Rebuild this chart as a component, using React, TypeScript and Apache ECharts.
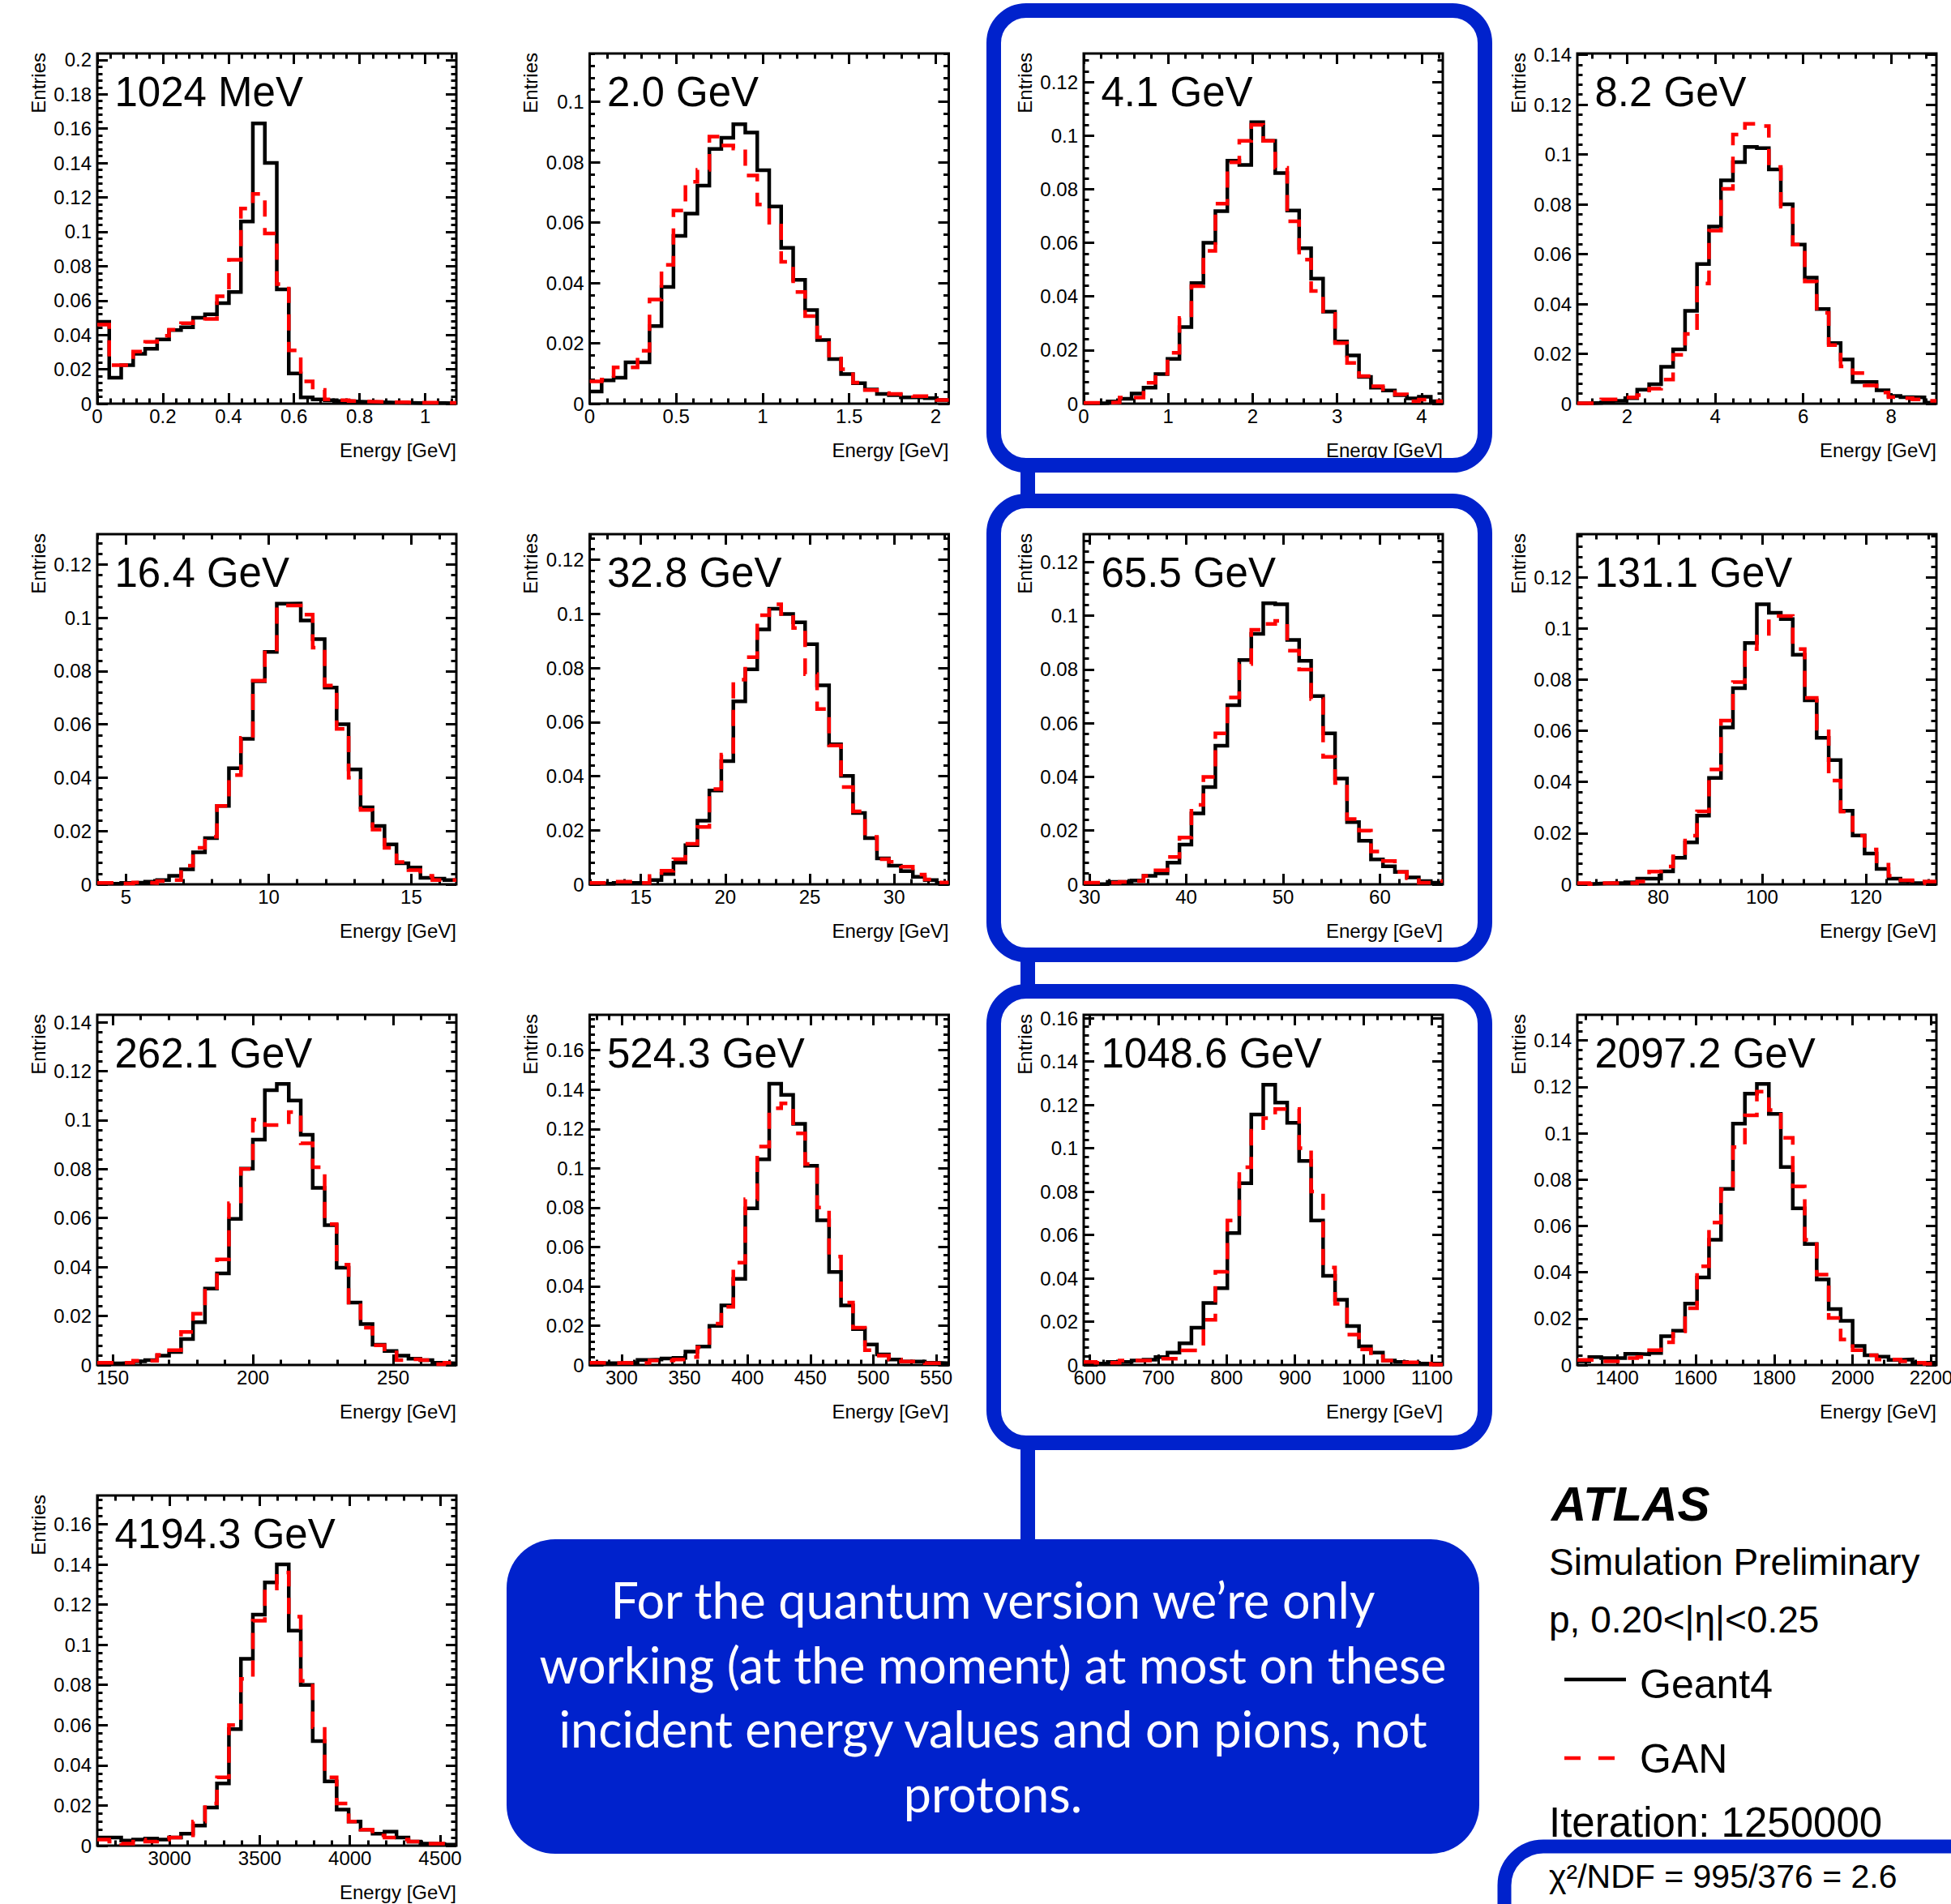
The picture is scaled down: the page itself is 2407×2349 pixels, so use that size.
import React, { useEffect, useRef } from "react";
import * as echarts from "echarts";

const FONT = '"Liberation Sans", Arial, Helvetica, sans-serif';
const NOTE_FONT = 'Lato, "Open Sans", sans-serif';
const BLUE = "#0022cc";

// ---------------- data ----------------
const panelTitles = [
  "1024 MeV", "2.0 GeV", "4.1 GeV", "8.2 GeV",
  "16.4 GeV", "32.8 GeV", "65.5 GeV", "131.1 GeV",
  "262.1 GeV", "524.3 GeV", "1048.6 GeV", "2097.2 GeV",
  "4194.3 GeV",
];
// histogram ranges (30 bins each) [GeV]
const xMins = [0, 0, 0, 0.866, 3.99, 11.97, 29.4, 64.4, 144.5, 274.6, 591, 1298.4, 2599];
const xMaxs = [1.095, 2.075, 4.25, 9.03, 16.58, 33.23, 66.5, 133.6, 272.5, 559.9, 1116, 2213.6, 4590];
const xMajorSteps = [0.2, 0.5, 1, 2, 5, 5, 10, 20, 50, 50, 100, 200, 500];
const yMaxs = [0.2037, 0.116, 0.1306, 0.1405, 0.1314, 0.1295, 0.1304, 0.1368, 0.143, 0.178, 0.1615, 0.1511, 0.1743];
const yMajorStep = 0.02;
const nBins = 30;

const geant4_1024MeV = [0.0476, 0.0151, 0.0224, 0.029, 0.032, 0.0374, 0.0428, 0.0444, 0.05, 0.052, 0.0585, 0.065, 0.106, 0.163, 0.14, 0.0665, 0.0176, 0.0037, 0.0025, 0.002, 0.0015, 0.0012, 0.001, 0.0008, 0.0006, 0.0005, 0.0004, 0.0003, 0.0003, 0.0002];
const gan_1024MeV = [0.046, 0.0224, 0.0224, 0.0303, 0.036, 0.0395, 0.043, 0.0468, 0.0478, 0.0493, 0.0625, 0.0837, 0.1135, 0.122, 0.099, 0.0696, 0.031, 0.013, 0.008, 0.0025, 0.002, 0.0015, 0.0012, 0.001, 0.0008, 0.0008, 0.0006, 0.0006, 0.0005, 0.0005];

const geant4_2GeV = [0.004, 0.0077, 0.0086, 0.0137, 0.0137, 0.0257, 0.0387, 0.0556, 0.063, 0.0722, 0.0844, 0.0881, 0.0926, 0.0898, 0.0773, 0.0653, 0.0516, 0.041, 0.031, 0.0211, 0.0148, 0.0098, 0.0068, 0.0047, 0.0032, 0.0028, 0.0021, 0.0021, 0.0018, 0.0012];
const gan_2GeV = [0.0074, 0.008, 0.012, 0.012, 0.0175, 0.0345, 0.046, 0.064, 0.0735, 0.0775, 0.0885, 0.0855, 0.0845, 0.0756, 0.066, 0.059, 0.047, 0.037, 0.029, 0.022, 0.015, 0.0114, 0.007, 0.0045, 0.0035, 0.0032, 0.003, 0.0025, 0.0025, 0.0012];

const geant4_4GeV = [0.0001, 0.0002, 0.0008, 0.0018, 0.0038, 0.006, 0.011, 0.0167, 0.0286, 0.045, 0.06, 0.0718, 0.0906, 0.089, 0.105, 0.098, 0.086, 0.072, 0.058, 0.0466, 0.0343, 0.0232, 0.018, 0.01, 0.006, 0.0049, 0.0032, 0.002, 0.0026, 0.0009];
const gan_4GeV = [0.0003, 0.0003, 0.0005, 0.0023, 0.0023, 0.0078, 0.0112, 0.019, 0.032, 0.0438, 0.057, 0.0746, 0.09, 0.098, 0.104, 0.098, 0.088, 0.068, 0.0537, 0.042, 0.0335, 0.0226, 0.0152, 0.0103, 0.0065, 0.0043, 0.0035, 0.0009, 0.0015, 0.0009];

const geant4_8GeV = [0.0002, 0.0003, 0.0006, 0.0011, 0.0022, 0.0056, 0.0078, 0.0148, 0.0218, 0.0372, 0.056, 0.0711, 0.0896, 0.0969, 0.103, 0.1025, 0.094, 0.08, 0.0638, 0.0506, 0.038, 0.0243, 0.0177, 0.0087, 0.0087, 0.0054, 0.0031, 0.0026, 0.0025, 0.0004];
const gan_8GeV = [0.0002, 0.0002, 0.0017, 0.0017, 0.0025, 0.0034, 0.006, 0.0097, 0.0196, 0.028, 0.0482, 0.0694, 0.0862, 0.108, 0.1123, 0.1114, 0.095, 0.079, 0.0638, 0.049, 0.0364, 0.0235, 0.015, 0.0123, 0.0073, 0.0045, 0.0026, 0.0022, 0.0017, 0.0011];

const geant4_16GeV = [0.0002, 0.0002, 0.0005, 0.0007, 0.001, 0.0016, 0.0032, 0.0056, 0.012, 0.0173, 0.0294, 0.0436, 0.0546, 0.0762, 0.0872, 0.1053, 0.1054, 0.099, 0.092, 0.0738, 0.0601, 0.0431, 0.0289, 0.0219, 0.015, 0.0079, 0.0063, 0.0024, 0.0021, 0.0016];
const gan_16GeV = [0.0005, 0.0007, 0.0003, 0.0007, 0.0005, 0.0012, 0.0016, 0.007, 0.0137, 0.0179, 0.0294, 0.041, 0.055, 0.0764, 0.087, 0.1046, 0.1046, 0.1012, 0.0888, 0.0746, 0.0583, 0.04, 0.0279, 0.0205, 0.0137, 0.0084, 0.0053, 0.0032, 0.0016, 0.0016];

const geant4_33GeV = [0.0002, 0.0002, 0.0005, 0.0005, 0.0005, 0.0016, 0.0038, 0.008, 0.0145, 0.0235, 0.0347, 0.0456, 0.0677, 0.0795, 0.0943, 0.1019, 0.1, 0.0969, 0.0888, 0.0736, 0.0518, 0.0401, 0.0264, 0.0171, 0.0096, 0.0069, 0.0049, 0.0028, 0.0016, 0.0005];
const gan_33GeV = [0.0005, 0.0005, 0.001, 0.001, 0.0005, 0.0031, 0.005, 0.0093, 0.015, 0.0212, 0.0352, 0.048, 0.0757, 0.084, 0.0995, 0.1036, 0.1, 0.0948, 0.0777, 0.0648, 0.0513, 0.036, 0.027, 0.0175, 0.0093, 0.0083, 0.0065, 0.0036, 0.0018, 0.0007];

const geant4_66GeV = [0.0001, 0.0001, 0.0009, 0.0009, 0.0014, 0.0032, 0.0041, 0.0081, 0.0148, 0.0264, 0.0362, 0.0516, 0.0667, 0.0835, 0.0933, 0.1047, 0.1043, 0.091, 0.0832, 0.0701, 0.0562, 0.0394, 0.0232, 0.0162, 0.0093, 0.0067, 0.0046, 0.0026, 0.0012, 0.0006];
const gan_66GeV = [0.0006, 0.0006, 0.0006, 0.0009, 0.0012, 0.0032, 0.0052, 0.0102, 0.0174, 0.0296, 0.04, 0.0562, 0.0696, 0.082, 0.0948, 0.097, 0.0981, 0.087, 0.08, 0.069, 0.0475, 0.0377, 0.0243, 0.02, 0.0122, 0.0087, 0.0046, 0.0023, 0.0006, 0.0012];

const geant4_131GeV = [0.0001, 0.0003, 0.0005, 0.0005, 0.0008, 0.0022, 0.0022, 0.0051, 0.0104, 0.0164, 0.0268, 0.0416, 0.0613, 0.0766, 0.0943, 0.1094, 0.1061, 0.1036, 0.0897, 0.0719, 0.0572, 0.0485, 0.0287, 0.0191, 0.012, 0.006, 0.0022, 0.0011, 0.0005, 0.0005];
const gan_131GeV = [0.0005, 0.0001, 0.0005, 0.0005, 0.0005, 0.0011, 0.005, 0.007, 0.0109, 0.019, 0.0285, 0.0449, 0.064, 0.079, 0.0919, 0.0968, 0.1048, 0.1048, 0.0919, 0.0728, 0.0608, 0.0405, 0.0284, 0.019, 0.0136, 0.0077, 0.0033, 0.0016, 0.0005, 0.0011];

const geant4_262GeV = [0.0001, 0.0007, 0.0009, 0.0015, 0.002, 0.0038, 0.0053, 0.0106, 0.0175, 0.0312, 0.0374, 0.0597, 0.0802, 0.092, 0.1122, 0.1148, 0.108, 0.094, 0.0723, 0.0571, 0.0397, 0.0255, 0.0167, 0.0083, 0.0057, 0.0038, 0.0026, 0.002, 0.0009, 0.0007];
const gan_262GeV = [0.0009, 0.0009, 0.0009, 0.0017, 0.0017, 0.0041, 0.006, 0.0135, 0.0209, 0.0315, 0.0431, 0.066, 0.08, 0.1002, 0.098, 0.098, 0.1033, 0.0905, 0.0808, 0.0575, 0.041, 0.0243, 0.0152, 0.008, 0.0064, 0.002, 0.0023, 0.002, 0.0003, 0.0009];

const geant4_524GeV = [0.0001, 0.0009, 0.0009, 0.0011, 0.0026, 0.0028, 0.0033, 0.0036, 0.0068, 0.0094, 0.0199, 0.0303, 0.0438, 0.0796, 0.1046, 0.143, 0.1373, 0.1226, 0.1013, 0.0736, 0.0473, 0.0303, 0.0182, 0.0104, 0.0054, 0.0028, 0.0018, 0.0018, 0.0011, 0.0009];
const gan_524GeV = [0.0011, 0.0009, 0.0011, 0.0009, 0.0011, 0.0023, 0.0023, 0.0028, 0.004, 0.009, 0.021, 0.0296, 0.052, 0.0843, 0.111, 0.1305, 0.133, 0.1177, 0.1022, 0.08, 0.0551, 0.0317, 0.019, 0.0075, 0.0047, 0.0028, 0.0018, 0.0018, 0.0009, 0.0011];

const geant4_1049GeV = [0.0001, 0.0007, 0.0014, 0.0014, 0.0021, 0.0024, 0.0036, 0.0057, 0.01, 0.0172, 0.0286, 0.0354, 0.0608, 0.0838, 0.1155, 0.1293, 0.121, 0.1117, 0.0941, 0.0666, 0.0411, 0.0301, 0.0179, 0.0086, 0.0057, 0.0021, 0.0014, 0.001, 0.0007, 0.0007];
const gan_1049GeV = [0.0014, 0.001, 0.001, 0.0021, 0.0021, 0.0021, 0.0029, 0.0029, 0.0067, 0.0067, 0.0208, 0.043, 0.0666, 0.0912, 0.108, 0.1138, 0.118, 0.1181, 0.1, 0.08, 0.045, 0.0282, 0.014, 0.0072, 0.004, 0.0021, 0.0012, 0.0012, 0.0007, 0.0002];

const geant4_2097GeV = [0.0016, 0.0034, 0.003, 0.003, 0.0048, 0.0046, 0.0052, 0.0124, 0.0148, 0.0265, 0.0378, 0.054, 0.076, 0.1041, 0.1171, 0.1213, 0.1083, 0.0854, 0.0676, 0.0522, 0.0369, 0.0241, 0.0191, 0.0082, 0.0042, 0.0036, 0.0022, 0.0024, 0.001, 0.001];
const gan_2097GeV = [0.0022, 0.0022, 0.0016, 0.0016, 0.003, 0.0034, 0.0064, 0.0098, 0.0145, 0.0245, 0.0426, 0.0615, 0.0757, 0.094, 0.1077, 0.118, 0.11, 0.098, 0.077, 0.054, 0.039, 0.0203, 0.011, 0.0064, 0.0042, 0.0024, 0.0024, 0.0016, 0.001, 0.0005];

const geant4_4194GeV = [0.004, 0.004, 0.0025, 0.003, 0.0035, 0.003, 0.004, 0.006, 0.01, 0.019, 0.031, 0.058, 0.093, 0.115, 0.131, 0.14, 0.107, 0.08, 0.052, 0.032, 0.018, 0.012, 0.008, 0.006, 0.007, 0.004, 0.002, 0.001, 0.0008, 0.0005];
const gan_4194GeV = [0.003, 0.002, 0.001, 0.003, 0.002, 0.003, 0.004, 0.004, 0.012, 0.021, 0.034, 0.06, 0.083, 0.112, 0.128, 0.136, 0.114, 0.082, 0.059, 0.034, 0.021, 0.012, 0.008, 0.005, 0.004, 0.003, 0.002, 0.001, 0.001, 0.0008];

const geant4Hists = [geant4_1024MeV, geant4_2GeV, geant4_4GeV, geant4_8GeV, geant4_16GeV, geant4_33GeV, geant4_66GeV, geant4_131GeV, geant4_262GeV, geant4_524GeV, geant4_1049GeV, geant4_2097GeV, geant4_4194GeV];
const ganHists = [gan_1024MeV, gan_2GeV, gan_4GeV, gan_8GeV, gan_16GeV, gan_33GeV, gan_66GeV, gan_131GeV, gan_262GeV, gan_524GeV, gan_1049GeV, gan_2097GeV, gan_4194GeV];

const noteLines = [
  "For the quantum version we\u2019re only",
  "working (at the moment) at most on these",
  "incident energy values and on pions, not",
  "protons.",
];

// ---------------- layout ----------------
const COL_LEFT = [120, 727.5, 1337, 1946];
const ROW_TOP = [66, 659, 1252, 1845];
const FRAME_W = 443;
const FRAME_H = 432;

const round6 = (v: number) => parseFloat(v.toFixed(6));
function ticksBetween(lo: number, hi: number, step: number): number[] {
  const out: number[] = [];
  const k0 = Math.ceil(lo / step - 1e-9);
  const k1 = Math.floor(hi / step + 1e-9);
  for (let k = k0; k <= k1; k++) out.push(round6(k * step));
  return out;
}

function makeAxes(kind: "x" | "y", gridIndex: number, min: number, max: number, step: number) {
  const major = ticksBetween(min, max, step);
  const minor = ticksBetween(min, max, step / 5);
  const pos = kind === "x" ? ["bottom", "top"] : ["left", "right"];
  const base = {
    type: "value",
    gridIndex,
    min,
    max,
    splitLine: { show: false },
    splitArea: { show: false },
    axisLine: { show: false, onZero: false },
    axisPointer: { show: false },
  };
  const tick = (vals: number[], len: number) => ({
    show: true,
    inside: true,
    length: len,
    customValues: vals,
    lineStyle: { color: "#000", width: 3 },
  });
  const label = {
    show: true,
    customValues: major,
    margin: kind === "x" ? 3 : 7,
    color: "#000",
    fontSize: 24,
    fontFamily: FONT,
    formatter: (v: any) => String(round6(Number(v))),
  };
  return [
    { ...base, position: pos[0], axisTick: tick(major, 13), axisLabel: label },
    { ...base, position: pos[1], axisTick: tick(major, 13), axisLabel: { show: false } },
    { ...base, position: pos[0], axisTick: tick(minor, 6.5), axisLabel: { show: false } },
    { ...base, position: pos[1], axisTick: tick(minor, 6.5), axisLabel: { show: false } },
  ];
}

function buildOption() {
  const grids: any[] = [];
  const xAxes: any[] = [];
  const yAxes: any[] = [];
  const series: any[] = [];
  const graphics: any[] = [];

  panelTitles.forEach((title, i) => {
    const left = COL_LEFT[i % 4];
    const top = ROW_TOP[Math.floor(i / 4)];
    grids.push({
      left,
      top,
      width: FRAME_W,
      height: FRAME_H,
      show: true,
      borderColor: "#000",
      borderWidth: 3,
      backgroundColor: "transparent",
      containLabel: false,
      outerBoundsMode: "none",
    });
    xAxes.push(...makeAxes("x", i, xMins[i], xMaxs[i], xMajorSteps[i]));
    yAxes.push(...makeAxes("y", i, 0, yMaxs[i], yMajorStep));

    const edges: number[] = [];
    for (let k = 0; k <= nBins; k++) edges.push(xMins[i] + ((xMaxs[i] - xMins[i]) * k) / nBins);
    const toSteps = (vals: number[]) =>
      vals.map((v, k) => [edges[k], v]).concat([[edges[nBins], vals[nBins - 1]]]);

    series.push({
      name: "Geant4",
      type: "line",
      xAxisIndex: i * 4,
      yAxisIndex: i * 4,
      data: toSteps(geant4Hists[i]),
      step: "end",
      symbol: "none",
      showSymbol: false,
      silent: true,
      lineStyle: { color: "#000", width: 4.5, join: "miter", cap: "butt" },
      z: 2,
    });
    series.push({
      name: "GAN",
      type: "line",
      xAxisIndex: i * 4,
      yAxisIndex: i * 4,
      data: toSteps(ganHists[i]),
      step: "end",
      symbol: "none",
      showSymbol: false,
      silent: true,
      lineStyle: { color: "#ff0000", width: 4.5, type: [20, 14], join: "miter", cap: "butt" },
      z: 3,
    });

    graphics.push({
      type: "text",
      x: left + 21.5,
      y: top + 47,
      z: 10,
      style: { text: title, fontSize: 51, fontFamily: FONT, fill: "#000", align: "left", verticalAlign: "middle" },
    });
    graphics.push({
      type: "text",
      x: left - 73,
      y: top - 1,
      rotation: Math.PI / 2,
      z: 10,
      style: { text: "Entries", fontSize: 24, fontFamily: FONT, fill: "#000", align: "right", verticalAlign: "middle" },
    });
    graphics.push({
      type: "text",
      x: left + FRAME_W,
      y: top + FRAME_H + 57,
      z: 10,
      style: { text: "Energy [GeV]", fontSize: 24, fontFamily: FONT, fill: "#000", align: "right", verticalAlign: "middle" },
    });
  });

  // ATLAS legend block
  const lx = 1911;
  graphics.push(
    { type: "text", x: 1914, y: 1855, z: 10, style: { text: "ATLAS", fontSize: 60, fontWeight: "bold", fontStyle: "italic", fontFamily: FONT, fill: "#000", align: "left", verticalAlign: "middle" } },
    { type: "text", x: lx, y: 1927, z: 10, style: { text: "Simulation Preliminary", fontSize: 46, fontFamily: FONT, fill: "#000", align: "left", verticalAlign: "middle" } },
    { type: "text", x: lx, y: 1998, z: 10, style: { text: "p, 0.20<|\u03b7|<0.25", fontSize: 46, fontFamily: FONT, fill: "#000", align: "left", verticalAlign: "middle" } },
    { type: "line", z: 10, shape: { x1: 1930, y1: 2072, x2: 2006, y2: 2072 }, style: { stroke: "#000", lineWidth: 4.5 } },
    { type: "text", x: 2023, y: 2078, z: 10, style: { text: "Geant4", fontSize: 50, fontFamily: FONT, fill: "#000", align: "left", verticalAlign: "middle" } },
    { type: "line", z: 10, shape: { x1: 1930, y1: 2169, x2: 2000, y2: 2169 }, style: { stroke: "#ff0000", lineWidth: 4.5, lineDash: [20, 22] } },
    { type: "text", x: 2023, y: 2170, z: 10, style: { text: "GAN", fontSize: 50, fontFamily: FONT, fill: "#000", align: "left", verticalAlign: "middle" } },
    { type: "text", x: lx, y: 2248, z: 10, style: { text: "Iteration: 1250000", fontSize: 51, fontFamily: FONT, fill: "#000", align: "left", verticalAlign: "middle" } },
    { type: "text", x: lx, y: 2315, z: 10, style: { text: "\u03c7\u00b2/NDF = 995/376 = 2.6", fontSize: 41, fontFamily: FONT, fill: "#000", align: "left", verticalAlign: "middle" } }
  );

  // blue annotation overlays
  const boxStyle = { fill: "none", stroke: BLUE, lineWidth: 18 };
  graphics.push(
    { type: "rect", z: 20, shape: { x: 1226, y: 13, width: 606, height: 561, r: 40 }, style: boxStyle },
    { type: "rect", z: 20, shape: { x: 1226, y: 618, width: 606, height: 560, r: 40 }, style: boxStyle },
    { type: "rect", z: 20, shape: { x: 1226, y: 1223, width: 606, height: 557, r: 40 }, style: boxStyle },
    { type: "rect", z: 20, shape: { x: 1259, y: 580, width: 18, height: 32 }, style: { fill: BLUE } },
    { type: "rect", z: 20, shape: { x: 1259, y: 1184, width: 18, height: 33 }, style: { fill: BLUE } },
    { type: "rect", z: 20, shape: { x: 1259, y: 1786, width: 18, height: 118 }, style: { fill: BLUE } },
    { type: "rect", z: 20, shape: { x: 625, y: 1899, width: 1200, height: 388, r: 60 }, style: { fill: BLUE } },
    { type: "rect", z: 20, shape: { x: 1856, y: 2278, width: 700, height: 200, r: 48 }, style: { fill: "none", stroke: BLUE, lineWidth: 17 } }
  );
  const lineY = [1973, 2053, 2132, 2212];
  noteLines.forEach((t, k) => {
    graphics.push({
      type: "text",
      x: 1225,
      y: lineY[k],
      z: 21,
      style: { text: t, fontSize: 61, fontFamily: NOTE_FONT, fill: "#fff", align: "center", verticalAlign: "middle" },
    });
  });

  return {
    animation: false,
    backgroundColor: "#fff",
    grid: grids,
    xAxis: xAxes,
    yAxis: yAxes,
    series,
    graphic: { elements: graphics },
  };
}

export default function App() {
  const ref = useRef<HTMLDivElement>(null);
  useEffect(() => {
    document.body.style.margin = "0";
    const chart = echarts.init(ref.current as HTMLDivElement, null, { renderer: "svg" });
    chart.setOption(buildOption() as any);
    return () => chart.dispose();
  }, []);
  return <div ref={ref} style={{ width: 2407, height: 2349, background: "#fff" }} />;
}
